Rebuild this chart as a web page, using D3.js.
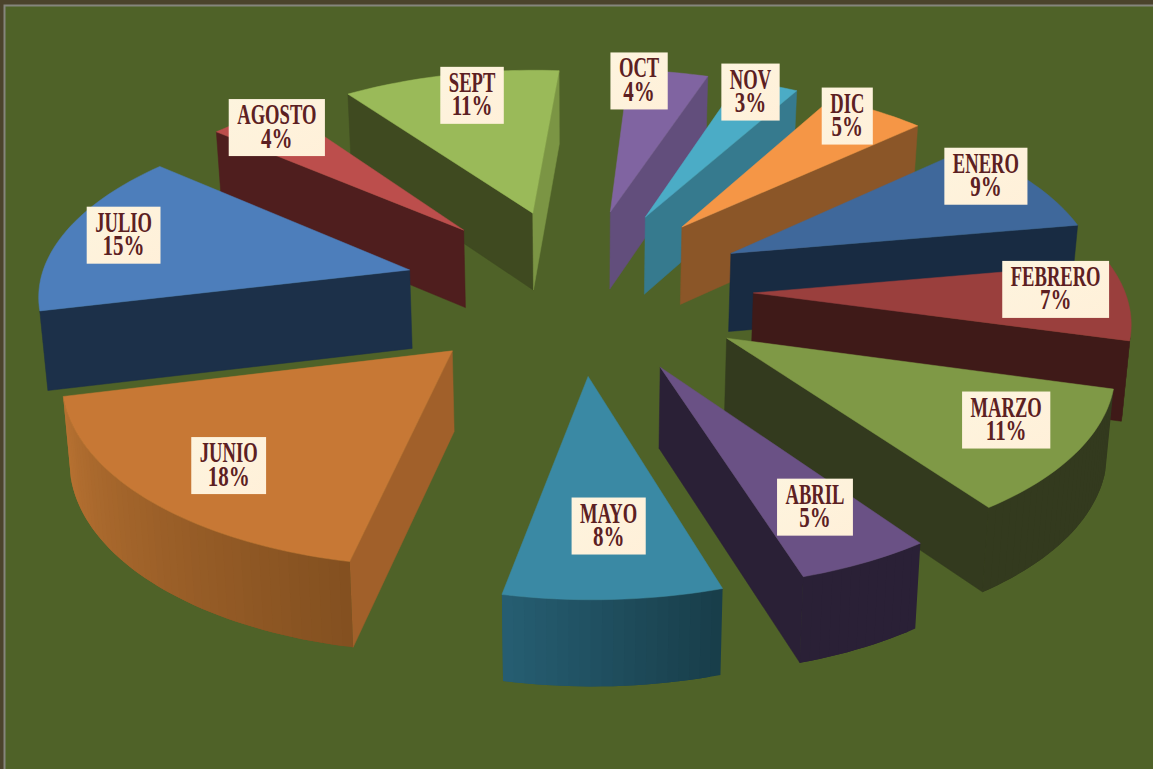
<!DOCTYPE html>
<html>
<head>
<meta charset="utf-8">
<script src="https://cdn.jsdelivr.net/npm/d3@7"></script>
<style>
html,body{margin:0;padding:0;background:#4b432c;overflow:hidden}
svg{display:block}
</style>
</head>
<body>
<script>
// months and their share of the year
var months = ["ENERO","FEBRERO","MARZO","ABRIL","MAYO","JUNIO","JULIO","AGOSTO","SEPT","OCT","NOV","DIC"];
var shares = [9,7,11,5,8,18,15,4,11,4,3,5];

// face colours, one per month
var topColors   = ["#3f689b","#9a3f3d","#7f9946","#6a5185","#3a89a4","#c77835","#4d7ebb","#bc4e4c","#9aba59","#8064a1","#4bacc6","#f59646"];
var startCut    = ["#182b42","#3f1a18","#333a1e","#2a2036","#1d4554","#a1602a","#1c3049","#4f1e1e","#3f4a20","#624e7c","#367a8e","#8b5628"];
var endCut      = ["#182b42","#3f1a18","#333a1e","#2a2036","#1d4554","#a1602a","#1c3049","#4f1e1e","#7b9544","#624e7c","#367a8e","#8b5628"];
var wallStart   = ["#182b42","#3f1a18","#333a1e","#2a2036","#183d49","#835020","#1c3049","#4f1e1e","#3f4a20","#624e7c","#367a8e","#8b5628"];
var wallEnd     = ["#182b42","#3f1a18","#333a1e","#2a2036","#265e72","#b87232","#1c3049","#4f1e1e","#3f4a20","#624e7c","#367a8e","#8b5628"];

// label placement: how far out along the slice, then a small nudge in px
var labelReach = [0.72,0.72,0.72,0.72,0.72,0.72,0.72,0.72,0.72,0.72,0.72,0.72];
var labelNudge = [[35,-26],[33,-9.5],[33.5,0.5],[12,4],[3,-5],[-10.6,10],[-37,-6.5],[-28.4,-21],[0.5,-15.5],[-14.5,-27.5],[14,-27.5],[22.3,-25.5]];

var width = 1153, height = 769;
var cx = 578, cy = 289;       // where the pie axis lands
var R = 371, blast = 175;     // slice radius and explosion distance
var tilt = 0.473, depth = 79; // squash and slice thickness
var persp = 0.00031, shear = 0.008;
var firstAngle = 47.7;        // degrees clockwise from the back

var svg = d3.select("body").append("svg")
	.attr("width", width)
	.attr("height", height);

// frame and plot background
svg.append("rect").attr("width", width).attr("height", height).attr("fill", "#4b432c");
svg.append("rect").attr("x", 4.5).attr("y", 5.5).attr("width", width+10).attr("height", height+10)
	.attr("fill", "#4f6228").attr("stroke", "#85857c").attr("stroke-width", 2);

// world -> screen, x right, y towards the viewer, z down
var project = function(x, y, z){
	var s = 1/(1 - persp*y);
	//verticals lean in a little as they go down
	var lean = 1 - 0.015*z/depth;
	return [cx + (x*s + shear*y)*lean, cy + tilt*y*s + z*Math.sqrt(s)];
};

var line = d3.line();
var pie = d3.pie().sort(null)
	.startAngle(firstAngle*Math.PI/180)
	.endAngle((firstAngle+360)*Math.PI/180);

var slices = pie(shares).map(function(d, i){
	var mid = (d.startAngle + d.endAngle)/2;
	return {
		i: i,
		start: d.startAngle,
		end: d.endAngle,
		mid: mid,
		ox: blast*Math.sin(mid),
		oy: -blast*Math.cos(mid)
	};
});

var rim = function(sl, a, radius, z){
	return project(sl.ox + radius*Math.sin(a), sl.oy - radius*Math.cos(a), z);
};

// positive when the polygon faces the viewer
var facing = function(pts){
	return d3.polygonArea(pts) > 0;
};

var drawFace = function(g, pts, color, edge){
	g.append("path")
		.attr("d", line(pts) + "Z")
		.attr("fill", color)
		.attr("stroke", edge ? color : "none")
		.attr("stroke-width", edge ? 0.5 : 0)
		.attr("stroke-linejoin", "round");
};

// paint back to front
var order = slices.slice().sort(function(a, b){
	var ay = a.oy - R*0.6*Math.cos(a.mid), by = b.oy - R*0.6*Math.cos(b.mid);
	return ay - by;
});

order.forEach(function(sl){
	var g = svg.append("g").attr("class", "slice");
	var apexT = project(sl.ox, sl.oy, 0), apexB = project(sl.ox, sl.oy, depth);
	var steps = Math.max(4, Math.round((sl.end - sl.start)*40));
	var angles = d3.range(steps + 1).map(function(k){ return sl.start + (sl.end - sl.start)*k/steps; });

	// the two straight cuts, only the sides turned to us
	var startFace = [apexT, rim(sl, sl.start, R, 0), rim(sl, sl.start, R, depth), apexB];
	var endFace = [rim(sl, sl.end, R, 0), apexT, apexB, rim(sl, sl.end, R, depth)];
	if(facing(startFace)) drawFace(g, startFace, startCut[sl.i], true);
	if(facing(endFace)) drawFace(g, endFace, endCut[sl.i], true);

	// outer wall as thin bands, each runs a bit under the next so no seams show
	var shade = d3.interpolateRgb(wallStart[sl.i], wallEnd[sl.i]);
	for(var k = 0; k < steps; k++){
		var a0 = angles[k], a1 = angles[k+1];
		var over = k < steps-1 ? angles[k+2] : a1;
		var band = [rim(sl, a0, R, 0), rim(sl, a1, R, 0), rim(sl, over, R, 0), rim(sl, over, R, depth), rim(sl, a1, R, depth), rim(sl, a0, R, depth)];
		if(facing([rim(sl, a0, R, 0), rim(sl, a1, R, 0), rim(sl, a1, R, depth), rim(sl, a0, R, depth)]))
			drawFace(g, band, shade((k+0.5)/steps), false);
	}

	var top = [apexT].concat(angles.map(function(a){ return rim(sl, a, R, 0); }));
	drawFace(g, top, topColors[sl.i], true);
});

// labels last so they sit above every slice
var defs = svg.append("defs");
var grad = defs.append("linearGradient").attr("id", "labelFill").attr("x1", 0).attr("y1", 0).attr("x2", 1).attr("y2", 1);
grad.append("stop").attr("offset", "0%").attr("stop-color", "#fdf4de");
grad.append("stop").attr("offset", "100%").attr("stop-color", "#fff0d9");

var nameSqueeze = 0.62, pctSqueeze = 0.7;
slices.forEach(function(sl){
	var p = rim(sl, sl.mid, R*labelReach[sl.i], 0);
	var lx = p[0] + labelNudge[sl.i][0], ly = p[1] + labelNudge[sl.i][1];
	var g = svg.append("g").attr("class", "label").attr("transform", "translate(" + lx + "," + ly + ")");
	var box = g.append("rect").attr("fill", "url(#labelFill)");
	var name = g.append("text").attr("transform", "translate(0,-3.5) scale(" + nameSqueeze + ",1)").text(months[sl.i]);
	var pct = g.append("text").attr("transform", "translate(0,20) scale(" + pctSqueeze + ",1)").text(shares[sl.i] + "%");
	g.selectAll("text")
		.attr("text-anchor", "middle")
		.attr("font-family", "'Liberation Serif',serif")
		.attr("font-weight", "bold")
		.attr("font-size", 30)
		.attr("fill", "#5c2022");
	var w = Math.max(name.node().getComputedTextLength()*nameSqueeze, pct.node().getComputedTextLength()*pctSqueeze) + 17;
	box.attr("x", -w/2).attr("y", -28.5).attr("width", w).attr("height", 57);
});
</script>
</body>
</html>
